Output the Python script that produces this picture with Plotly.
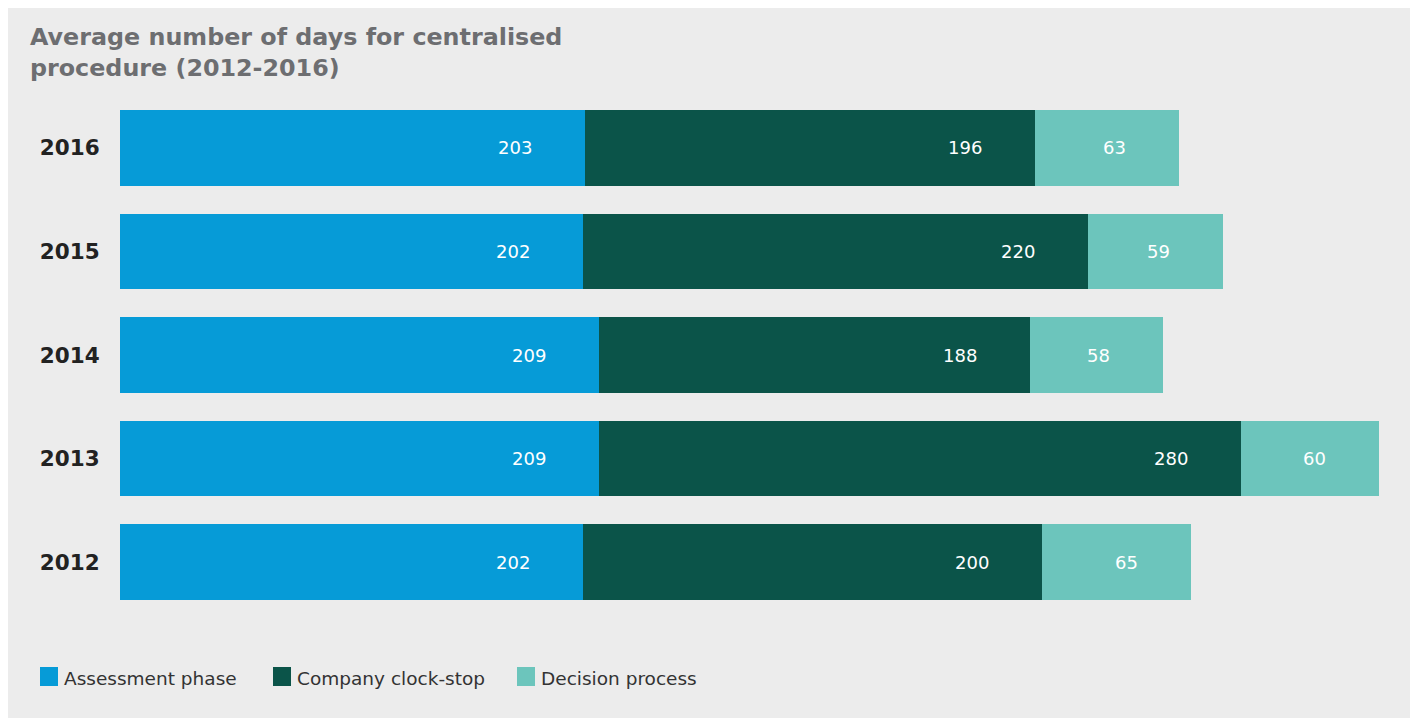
import plotly.graph_objects as go

years = ["2012", "2013", "2014", "2015", "2016"]
assessment = [202, 209, 209, 202, 203]
clockstop = [200, 280, 188, 220, 196]
decision = [65, 60, 58, 59, 63]
series_names = ["Assessment phase", "Company clock-stop", "Decision process"]
colors = ["#069BD7", "#0B5449", "#6CC5BC"]
title_text = "Average number of days for centralised<br>procedure (2012-2016)"

# figure pixel geometry (page is offset by the 8px body margin)
W, H = 1410, 710
L, R, T, B = 112, 38, 88, 104
pw, ph = W - L - R, H - T - B

def px_x(px):
    return (px - L) / pw

def px_y(py):
    return (H - B - py) / ph

fig = go.Figure()
series = [assessment, clockstop, decision]
for name, vals, col in zip(series_names, series, colors):
    fig.add_trace(go.Bar(
        y=years, x=vals, name=name, orientation="h",
        marker=dict(color=col, line=dict(width=0)),
        showlegend=False, hoverinfo="x+name",
    ))

annotations = []
for i, yr in enumerate(years):
    cum = 0
    for vals in series:
        cum += vals[i]
        annotations.append(dict(
            x=cum, y=i, xref="x", yref="y", text=str(vals[i]),
            showarrow=False, xanchor="right", yanchor="middle", xshift=-51,
            font=dict(family="DejaVu Sans", size=18, color="white"),
        ))

# title
annotations.append(dict(
    x=px_x(20), y=px_y(13), xref="paper", yref="paper", text=title_text,
    showarrow=False, xanchor="left", yanchor="top", align="left",
    font=dict(family="DejaVu Sans", size=23.8, color="#6D6E71", weight="bold"),
))

# manual legend
legend_x = [32, 265, 509]
shapes = []
for lx, name, col in zip(legend_x, series_names, colors):
    shapes.append(dict(type="rect", xref="paper", yref="paper",
                       x0=px_x(lx), x1=px_x(lx + 18), y0=px_y(678), y1=px_y(659),
                       fillcolor=col, line=dict(width=0)))
    annotations.append(dict(
        x=px_x(lx + 22), y=px_y(670), xref="paper", yref="paper", text=name,
        showarrow=False, xanchor="left", yanchor="middle",
        font=dict(family="DejaVu Sans", size=18.5, color="#333333"),
    ))

fig.update_layout(
    width=W, height=H,
    barmode="stack", bargap=0.27,
    paper_bgcolor="#ECECEC", plot_bgcolor="#ECECEC",
    margin=dict(l=L, r=R, t=T, b=B, pad=0),
    xaxis=dict(range=[0, 549.5], visible=False, fixedrange=True),
    yaxis=dict(type="category", categoryorder="array", categoryarray=years,
               range=[-0.5, len(years) - 0.5], fixedrange=True,
               showgrid=False, zeroline=False, showline=False,
               ticks="outside", ticklen=15, tickcolor="rgba(0,0,0,0)",
               tickfont=dict(family="DejaVu Sans", size=21.5, color="#222222", weight="bold")),
    shapes=shapes, annotations=annotations,
)

fig.write_html("out.html")
